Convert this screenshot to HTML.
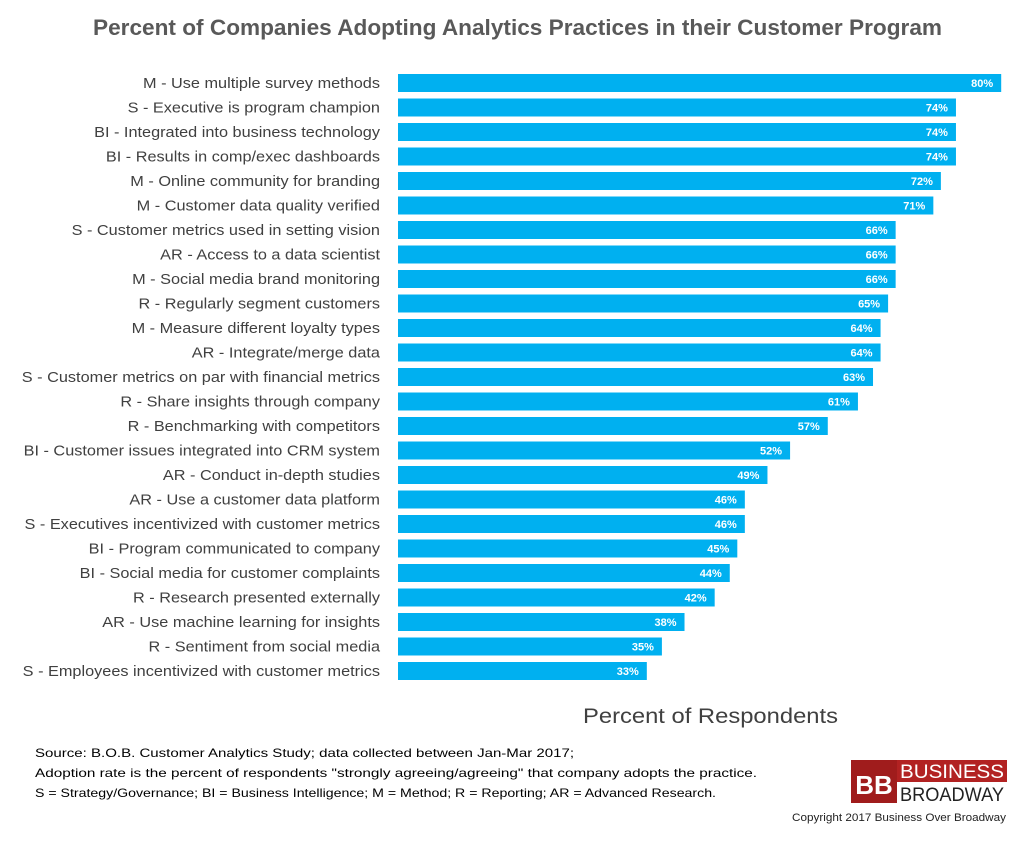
<!DOCTYPE html>
<html><head><meta charset="utf-8"><style>
body{margin:0;background:#fff;width:1024px;height:839px;overflow:hidden;font-family:"Liberation Sans",sans-serif;}
</style></head><body>
<svg width="1024" height="839">
<text x="93" y="35" textLength="849" lengthAdjust="spacingAndGlyphs" font-size="22" font-weight="bold" fill="#595959">Percent of Companies Adopting Analytics Practices in their Customer Program</text>
<g id="bars"></g>
<text x="583" y="723" textLength="255" lengthAdjust="spacingAndGlyphs" font-size="21" fill="#404040">Percent of Respondents</text>
<g font-size="12" fill="#000">
<text x="35" y="757" textLength="539" lengthAdjust="spacingAndGlyphs">Source: B.O.B. Customer Analytics Study;  data collected between Jan-Mar 2017;</text>
<text x="35" y="777" textLength="722" lengthAdjust="spacingAndGlyphs">Adoption rate is the percent of respondents "strongly agreeing/agreeing" that company adopts the practice.</text>
<text x="35" y="797" textLength="681" lengthAdjust="spacingAndGlyphs">S = Strategy/Governance; BI = Business Intelligence; M = Method; R = Reporting; AR = Advanced Research.</text>
</g>
<g>
<rect x="851" y="760" width="46" height="43" fill="#a01c1c"/>
<text x="874" y="794" text-anchor="middle" font-size="26" font-weight="bold" fill="#fff">BB</text>
<rect x="897" y="760" width="110" height="22" fill="#b22222"/>
<text x="900" y="778" textLength="104" lengthAdjust="spacingAndGlyphs" font-size="19" fill="#fff">BUSINESS</text>
<text x="900" y="801" textLength="104" lengthAdjust="spacingAndGlyphs" font-size="19" fill="#222">BROADWAY</text>
<text x="792" y="821" textLength="214" lengthAdjust="spacingAndGlyphs" font-size="11" fill="#222">Copyright 2017 Business Over Broadway</text>
</g>
</svg>
<script>
const categories=["M - Use multiple survey methods","S - Executive is program champion","BI - Integrated into business technology","BI - Results in comp/exec dashboards","M - Online community for branding","M - Customer data quality verified","S - Customer metrics used in setting vision","AR - Access to a data scientist","M - Social media brand monitoring","R - Regularly segment customers","M - Measure different loyalty types","AR - Integrate/merge data","S - Customer metrics on par with financial metrics","R - Share insights through company","R - Benchmarking with competitors","BI - Customer issues integrated into CRM system","AR - Conduct in-depth studies","AR - Use a customer data platform","S - Executives incentivized with customer metrics","BI - Program communicated to company","BI - Social media for customer complaints","R - Research presented externally","AR - Use machine learning for insights","R - Sentiment from social media","S - Employees incentivized with customer metrics"];
const values=[80,74,74,74,72,71,66,66,66,65,64,64,63,61,57,52,49,46,46,45,44,42,38,35,33];
const x0=398, pxPer=7.54;
function xs(v){return x0+v*pxPer;}
function ys(i){return 74+i*24.5;}
const g=document.getElementById('bars');
const NS="http://www.w3.org/2000/svg";
categories.forEach((c,i)=>{
  const r=document.createElementNS(NS,'rect');
  
  
  r.setAttribute('x',x0);r.setAttribute('y',ys(i));
  r.setAttribute('width',xs(values[i])-x0);r.setAttribute('height',18);
  r.setAttribute('fill','#00b0f0');g.appendChild(r);
  const l=document.createElementNS(NS,'text');
  
  
  l.setAttribute('x',380);l.setAttribute('y',ys(i)+14);
  l.setAttribute('text-anchor','end');l.setAttribute('font-size','15');l.setAttribute('fill','#404040');
  l.textContent=c;g.appendChild(l);
  const w=l.getComputedTextLength();
  l.setAttribute('textLength',(w*1.085).toFixed(1));
  l.setAttribute('lengthAdjust','spacingAndGlyphs');
  const v=document.createElementNS(NS,'text');
  
  
  v.setAttribute('x',xs(values[i])-8);v.setAttribute('y',ys(i)+13);
  v.setAttribute('text-anchor','end');v.setAttribute('font-size','11');v.setAttribute('font-weight','bold');v.setAttribute('fill','#fff');
  v.textContent=values[i]+'%';g.appendChild(v);
});
</script>
</body></html>
